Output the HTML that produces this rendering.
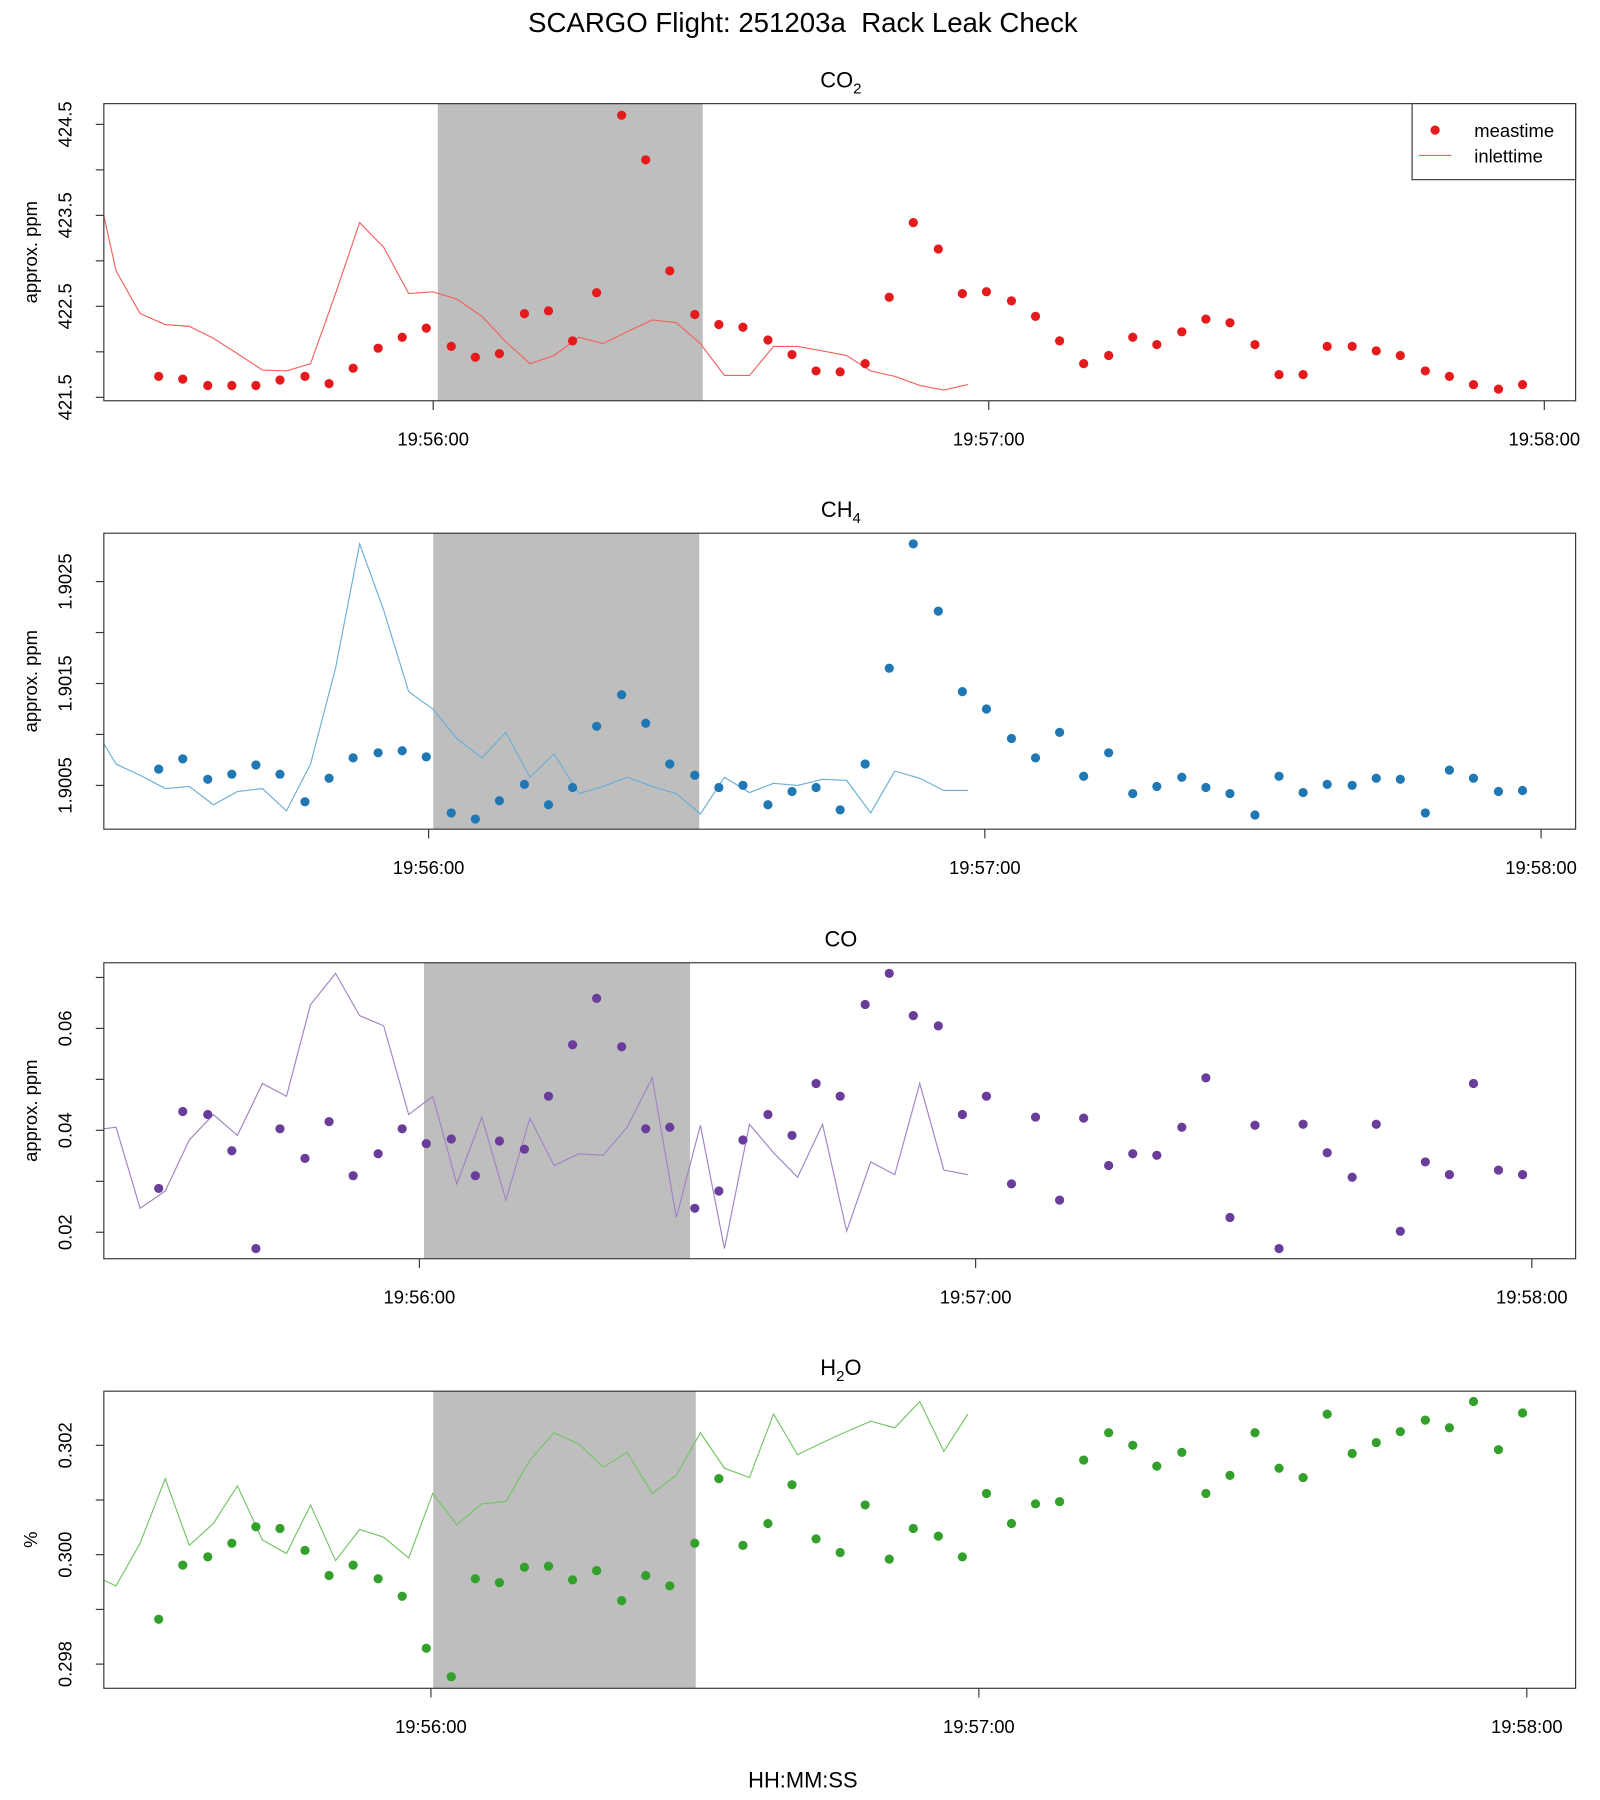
<!DOCTYPE html>
<html><head><meta charset="utf-8"><style>
html,body{margin:0;padding:0;background:#fff;}
svg{display:block;font-family:"Liberation Sans",sans-serif;}
</style></head><body>
<svg id="chart" width="1600" height="1800" viewBox="0 0 1389 1563" xmlns="http://www.w3.org/2000/svg">
<rect x="0" y="0" width="1389" height="1563" fill="#fff"/>
<text x="697" y="28" text-anchor="middle" font-size="24">SCARGO Flight: 251203a&#160; Rack Leak Check</text>
<text x="697" y="1552" text-anchor="middle" font-size="19">HH:MM:SS</text>
</svg>
<script>
// times in seconds relative to 19:56:00
const measTimes = [-29.4,-26.8,-24.1,-21.5,-18.9,-16.3,-13.6,-11.0,-8.4,-5.7,-3.1,-0.5,2.2,4.8,7.4,10.1,12.7,15.3,17.9,20.6,23.2,25.8,28.5,31.1,33.7,36.4,39.0,41.6,44.2,46.9,49.5,52.1,54.8,57.4,60.0,62.7,65.3,67.9,70.5,73.2,75.8,78.4,81.1,83.7,86.3,89.0,91.6,94.2,96.8,99.5,102.1,104.7,107.4,110.0,112.6,115.3,117.9];
const lineTimes = [-35.4,-34.0,-31.4,-28.7,-26.1,-23.5,-20.9,-18.2,-15.6,-13.0,-10.3,-7.7,-5.1,-2.4,0.2,2.8,5.5,8.1,10.7,13.3,16.0,18.6,21.2,23.9,26.5,29.1,31.7,34.4,37.0,39.6,42.3,44.9,47.5,50.1,52.8,55.4,58.0];
const xTickLabels = ["19:56:00","19:57:00","19:58:00"];
const xTickTimes = [0,60,120];
const shadeRange = [0.6,29.2];

const co2Meas = [421.73,421.70,421.63,421.63,421.63,421.69,421.73,421.65,421.82,422.04,422.16,422.26,422.06,421.94,421.98,422.42,422.45,422.12,422.65,424.60,424.11,422.89,422.41,422.30,422.27,422.13,421.97,421.79,421.78,421.87,422.60,423.42,423.13,422.64,422.66,422.56,422.39,422.12,421.87,421.96,422.16,422.08,422.22,422.36,422.32,422.08,421.75,421.75,422.06,422.06,422.01,421.96,421.79,421.73,421.64,421.59,421.64];
const co2Line = [423.53,422.89,422.42,422.30,422.28,422.15,421.98,421.80,421.79,421.87,422.64,423.42,423.15,422.64,422.66,422.58,422.39,422.11,421.87,421.96,422.16,422.09,422.22,422.35,422.32,422.09,421.74,421.74,422.06,422.06,422.01,421.96,421.79,421.73,421.63,421.58,421.64];
const co2Ticks = [421.5,422.0,422.5,423.0,423.5,424.0,424.5];
const co2Labels = ["421.5","","422.5","","423.5","","424.5"];

const ch4Meas = [1.90066,1.90076,1.90056,1.90061,1.90070,1.90061,1.90034,1.90057,1.90077,1.90082,1.90084,1.90078,1.90023,1.90017,1.90035,1.90051,1.90031,1.90048,1.90108,1.90139,1.90111,1.90071,1.90060,1.90048,1.90050,1.90031,1.90044,1.90048,1.90026,1.90071,1.90165,1.90287,1.90221,1.90142,1.90125,1.90096,1.90077,1.90102,1.90059,1.90082,1.90042,1.90049,1.90058,1.90048,1.90042,1.90021,1.90059,1.90043,1.90051,1.90050,1.90057,1.90056,1.90023,1.90065,1.90057,1.90044,1.90045];
const ch4Line = [1.90092,1.90071,1.90060,1.90047,1.90049,1.90031,1.90044,1.90047,1.90025,1.90071,1.90165,1.90287,1.90222,1.90142,1.90125,1.90096,1.90077,1.90102,1.90058,1.90081,1.90042,1.90049,1.90058,1.90049,1.90042,1.90022,1.90058,1.90043,1.90052,1.90050,1.90056,1.90055,1.90023,1.90064,1.90057,1.90045,1.90045];
const ch4Ticks = [1.9005,1.9010,1.9015,1.9020,1.9025];
const ch4Labels = ["1.9005","","1.9015","","1.9025"];

const coMeas = [0.0286,0.0437,0.0431,0.0360,0.0168,0.0403,0.0345,0.0417,0.0311,0.0354,0.0403,0.0374,0.0383,0.0311,0.0379,0.0363,0.0467,0.0568,0.0659,0.0564,0.0403,0.0406,0.0247,0.0281,0.0381,0.0431,0.0390,0.0492,0.0467,0.0647,0.0708,0.0625,0.0605,0.0431,0.0467,0.0295,0.0426,0.0263,0.0424,0.0331,0.0354,0.0351,0.0406,0.0503,0.0229,0.0410,0.0168,0.0412,0.0356,0.0308,0.0412,0.0202,0.0338,0.0313,0.0492,0.0322,0.0313];
const coLine = [0.0403,0.0406,0.0247,0.0281,0.0381,0.0431,0.0390,0.0492,0.0467,0.0647,0.0708,0.0625,0.0605,0.0431,0.0467,0.0295,0.0426,0.0263,0.0424,0.0331,0.0354,0.0351,0.0406,0.0503,0.0229,0.0410,0.0168,0.0412,0.0356,0.0308,0.0412,0.0202,0.0338,0.0313,0.0492,0.0322,0.0313];
const coTicks = [0.02,0.03,0.04,0.05,0.06,0.07];
const coLabels = ["0.02","","0.04","","0.06",""];

const h2oMeas = [0.29882,0.29981,0.29996,0.30021,0.30051,0.30048,0.30008,0.29962,0.29981,0.29956,0.29924,0.29829,0.29777,0.29956,0.29949,0.29977,0.29979,0.29954,0.29971,0.29916,0.29962,0.29943,0.30021,0.30139,0.30017,0.30057,0.30128,0.30029,0.30004,0.30091,0.29992,0.30048,0.30034,0.29996,0.30112,0.30057,0.30093,0.30097,0.30173,0.30223,0.30200,0.30162,0.30187,0.30112,0.30145,0.30223,0.30158,0.30141,0.30257,0.30185,0.30205,0.30225,0.30246,0.30232,0.30280,0.30192,0.30259];
const h2oLine = [0.29954,0.29943,0.30021,0.30139,0.30017,0.30057,0.30126,0.30027,0.30002,0.30091,0.29989,0.30046,0.30032,0.29994,0.30112,0.30055,0.30093,0.30097,0.30173,0.30223,0.30202,0.30160,0.30187,0.30112,0.30145,0.30223,0.30158,0.30141,0.30257,0.30183,0.30205,0.30225,0.30244,0.30232,0.30280,0.30189,0.30257];
const h2oTicks = [0.298,0.299,0.300,0.301,0.302];
const h2oLabels = ["0.298","","0.300","","0.302"];

const NS = "http://www.w3.org/2000/svg";
const svg = document.getElementById('chart');
function mk(tag, attrs, parent){const e=document.createElementNS(NS,tag);for(const k in attrs)e.setAttribute(k,attrs[k]);(parent||svg).appendChild(e);return e;}

const L=90,R=1368;
function xScale(t){return 374 + t*8.04;}

const panels = [
 {key:'co2',title:'CO',sub:'2',top:90,bot:348,tx0:376,tps:8.04,sx:[380,610],yA:421.5,pA:345,yB:424.5,pB:108,meas:co2Meas,line:co2Line,ticks:co2Ticks,labels:co2Labels,ylab:'approx. ppm',pc:'#E41A1C',lc:'#F26262',legend:true},
 {key:'ch4',title:'CH',sub:'4',top:463,bot:720,tx0:372,tps:8.05,sx:[376,607],yA:1.9005,pA:682,yB:1.9025,pB:505,meas:ch4Meas,line:ch4Line,ticks:ch4Ticks,labels:ch4Labels,ylab:'approx. ppm',pc:'#1F78B4',lc:'#6BAED6'},
 {key:'co',title:'CO',sub:'',top:836,bot:1093,tx0:364,tps:8.05,sx:[368,599],yA:0.02,pA:1070,yB:0.06,pB:893,meas:coMeas,line:coLine,ticks:coTicks,labels:coLabels,ylab:'approx. ppm',pc:'#6A3D9A',lc:'#A084C4'},
 {key:'h2o',title:'H',sub:'2',post:'O',top:1208,bot:1466,tx0:374,tps:7.93,sx:[376,604],yA:0.298,pA:1445,yB:0.302,pB:1255,meas:h2oMeas,line:h2oLine,ticks:h2oTicks,labels:h2oLabels,ylab:'%',pc:'#33A02C',lc:'#74C466'}
];

panels.forEach(p=>{
  const g=mk('g',{});
  
  
  const y=v=>p.pA+(v-p.yA)*(p.pB-p.pA)/(p.yB-p.yA);
  const tt=mk('text',{x:730,y:p.top-14,'text-anchor':'middle','font-size':19},g);
  
  
  tt.textContent=p.title;
  if(p.sub){const s=mk('tspan',{'font-size':13,dy:5},tt);s.textContent=p.sub;}
  if(p.post){const s=mk('tspan',{dy:-5},tt);s.textContent=p.post;}
  const sh=mk('rect',{x:p.sx[0],y:p.top,width:p.sx[1]-p.sx[0],height:p.bot-p.top,fill:'#BEBEBE'},g);
  
  
  const cp=mk('clipPath',{id:'clip-'+p.key},g);
  mk('rect',{x:L,y:p.top,width:R-L,height:p.bot-p.top},cp);
  const pts=p.line.map((v,i)=>xScale(lineTimes[i]).toFixed(1)+','+y(v).toFixed(1)).join(' ');
  const pl=mk('polyline',{points:pts,fill:'none',stroke:p.lc,'stroke-width':1,'clip-path':'url(#clip-'+p.key+')'},g);
  
  
  p.meas.forEach((v,i)=>{
    const c=mk('circle',{cx:xScale(measTimes[i]),cy:y(v),r:4,fill:p.pc},g);
    
    
  });
  const bx=mk('rect',{x:L,y:p.top,width:R-L,height:p.bot-p.top,fill:'none',stroke:'#333','stroke-width':1},g);
  
  
  xTickTimes.forEach((t,i)=>{
    const xx=p.tx0+t*p.tps;
    mk('line',{x1:xx,x2:xx,y1:p.bot,y2:p.bot+8,stroke:'#333'},g);
    const tl=mk('text',{x:xx,y:p.bot+39,'text-anchor':'middle','font-size':16},g);
    
    
    tl.textContent=xTickLabels[i];
  });
  p.ticks.forEach((v,i)=>{
    const yy=y(v);
    if(yy<p.top-2||yy>p.bot+2) return;
    mk('line',{x1:L-7,x2:L,y1:yy,y2:yy,stroke:'#333'},g);
    if(p.labels[i]){
      const tl=mk('text',{x:0,y:0,'text-anchor':'middle','font-size':16,transform:'translate(62,'+yy+') rotate(-90)'},g);
      
      
      tl.textContent=p.labels[i];
    }
  });
  const yl=mk('text',{x:0,y:0,'text-anchor':'middle','font-size':16,transform:'translate(32,'+((p.top+p.bot)/2)+') rotate(-90)'},g);
  
  
  yl.textContent=p.ylab;
  if(p.legend){
    const lg=mk('g',{},g);
    
    
    mk('rect',{x:1226,y:90,width:142,height:66,fill:'#fff',stroke:'#333'},lg);
    mk('circle',{cx:1246,cy:113,r:4,fill:p.pc},lg);
    const t1=mk('text',{x:1280,y:119,'font-size':16},lg);
    
    
    t1.textContent='meastime';
    mk('line',{x1:1232,x2:1260,y1:135,y2:135,stroke:p.lc},lg);
    const t2=mk('text',{x:1280,y:141,'font-size':16},lg);
    
    
    t2.textContent='inlettime';
  }
});
</script>
</body></html>
